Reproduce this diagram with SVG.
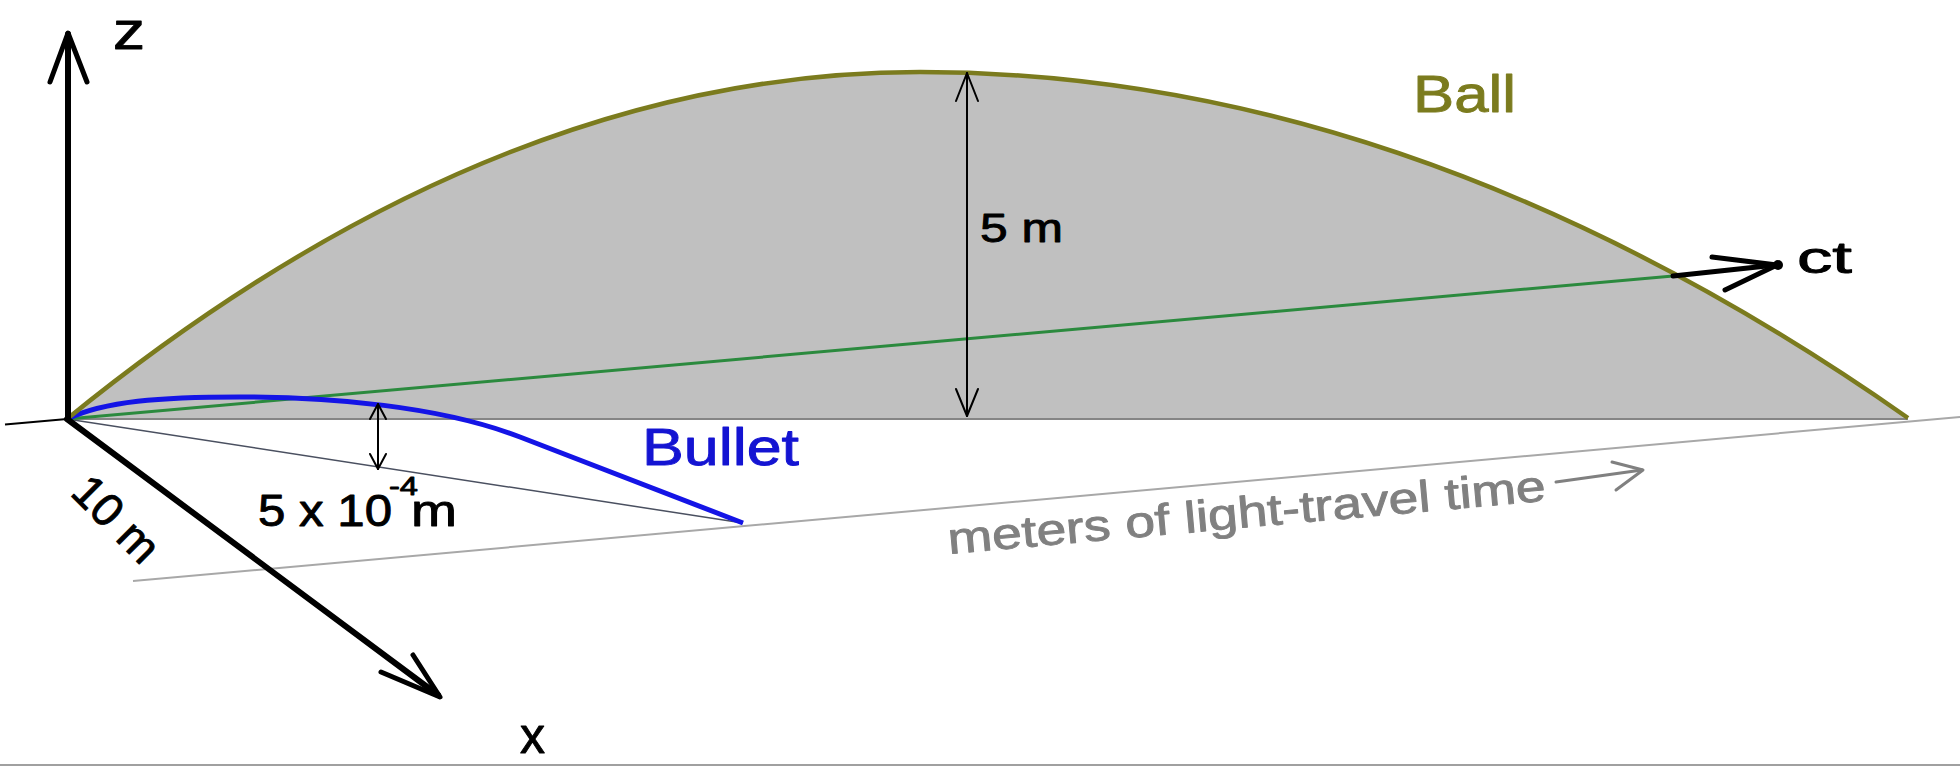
<svg xmlns="http://www.w3.org/2000/svg" width="1960" height="766" viewBox="0 0 1960 766">
<style>
text{font-family:"Liberation Sans",Arial,sans-serif;stroke-width:0.9;stroke-linejoin:round;}
.k{fill:#000;stroke:#000;}
.ax{stroke:#000;fill:none;stroke-linecap:round;stroke-linejoin:round;}
.dim{stroke:#000;stroke-width:2;fill:none;stroke-linecap:round;stroke-linejoin:round;}
</style>
<rect width="1960" height="766" fill="#fff"/>
<g id="surface">
<path d="M67,419 Q493.5,72 920,72 Q1414,72 1908,418 L1908,419 L67,419 Z" fill="#c0c0c0"/>
<line x1="67" y1="419" x2="1908" y2="419" stroke="#858585" stroke-width="2"/>
</g>
<g id="guides">
<line x1="133" y1="581" x2="1960" y2="417" stroke="#a8a8a8" stroke-width="2"/>
<line x1="67" y1="419" x2="743" y2="523" stroke="#4a5060" stroke-width="1.5"/>
<line x1="0" y1="765" x2="1960" y2="765" stroke="#a0a0a0" stroke-width="2"/>
</g>
<g id="connectors">
<line x1="67" y1="419" x2="1673" y2="276" stroke="#2b8a3e" stroke-width="3"/>
<line x1="67" y1="419" x2="5" y2="424.5" stroke="#000" stroke-width="2"/>
<path d="M67,419 C105,401 160,397 240,397 C330,397 440,406 520,437 L743,523" fill="none" stroke="#1414e6" stroke-width="5" stroke-linejoin="round"/>
<path d="M67,419 Q493.5,72 920,72 Q1414,72 1908,418" fill="none" stroke="#7b7b1e" stroke-width="4.5"/>
<g id="z-axis">
<line class="ax" x1="68" y1="419" x2="68" y2="34" stroke-width="6"/>
<polyline class="ax" points="50,82 68,33 87,82" stroke-width="5"/>
</g>
<g id="x-axis">
<line class="ax" x1="67" y1="419" x2="438" y2="695" stroke-width="6"/>
<polyline class="ax" points="413,655 440,697 381,672" stroke-width="5"/>
</g>
<g id="ct-axis">
<line class="ax" x1="1673" y1="276" x2="1776" y2="265" stroke-width="5"/>
<polyline class="ax" points="1712,257 1777,265 1725,290" stroke-width="5"/>
<circle cx="1778" cy="265" r="5" fill="#000"/>
</g>
<g id="dim-5m">
<line class="dim" x1="967" y1="73" x2="967" y2="416"/>
<polyline class="dim" points="956,101 967,73 978,101"/>
<polyline class="dim" points="956,389 967,416 978,389"/>
</g>
<g id="dim-bullet">
<line class="dim" x1="378" y1="404" x2="378" y2="469"/>
<polyline class="dim" points="370,419 378,404 386,419"/>
<polyline class="dim" points="370,454 378,469 386,454"/>
</g>
<g id="time-arrow">
<line x1="1556" y1="482" x2="1642" y2="470" stroke="#808080" stroke-width="3" stroke-linecap="round"/>
<polyline points="1612,462 1643,470 1616,490" fill="none" stroke="#808080" stroke-width="3" stroke-linecap="round" stroke-linejoin="round"/>
</g>
</g>
<g id="labels">
<text id="lbl-z" class="k" x="113" y="49" font-size="54" textLength="32" lengthAdjust="spacingAndGlyphs">z</text>
<text id="lbl-x" class="k" x="520" y="753" font-size="50">x</text>
<text id="lbl-ct" class="k" x="1797" y="273" font-size="44" textLength="55" lengthAdjust="spacingAndGlyphs">ct</text>
<text id="lbl-ball" x="1413" y="112" font-size="52" fill="#7b7b1e" stroke="#7b7b1e" textLength="103" lengthAdjust="spacingAndGlyphs">Ball</text>
<text id="lbl-bullet" x="642" y="465" font-size="52" fill="#1414d2" stroke="#1414d2" textLength="157" lengthAdjust="spacingAndGlyphs">Bullet</text>
<text id="lbl-5m" class="k" x="980" y="242" font-size="40" textLength="83" lengthAdjust="spacingAndGlyphs">5 m</text>
<text id="lbl-10m" class="k" transform="translate(69,494) rotate(45)" font-size="46">10 m</text>
<text id="lbl-bullet-height" class="k" font-size="44"><tspan x="258" y="526" textLength="134" lengthAdjust="spacingAndGlyphs">5 x 10</tspan><tspan x="389" y="495" font-size="26" textLength="29" lengthAdjust="spacingAndGlyphs">-4</tspan><tspan x="411" y="526" textLength="46" lengthAdjust="spacingAndGlyphs">m</tspan></text>
<text id="lbl-meters" transform="translate(949,554) rotate(-5.1)" font-size="44" fill="#808080" stroke="#808080" stroke-width="0.7" textLength="600" lengthAdjust="spacingAndGlyphs">meters of light-travel time</text>
</g>
</svg>
